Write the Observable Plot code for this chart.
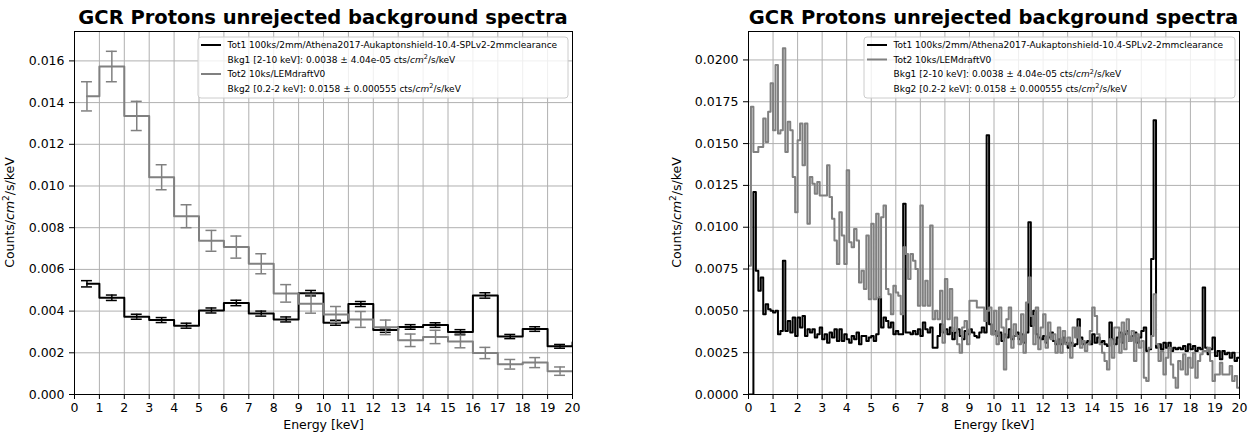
<!DOCTYPE html>
<html><head><meta charset="utf-8">
<script src="https://cdn.jsdelivr.net/npm/d3@7"></script>
<script src="https://cdn.jsdelivr.net/npm/@observablehq/plot@0.6"></script>
<style>
body{margin:0;background:#fff;}
#wrap{position:relative;width:1250px;height:439px;overflow:hidden;background:#fff;font-family:"DejaVu Sans",sans-serif;}
#wrap svg{position:absolute;top:0;}
</style></head><body><div id="wrap"></div>
<script>
// ---------- text ----------
const titleText = "GCR Protons unrejected background spectra";
const xLabel = "Energy [keV]";
const yLabelParts = ["Counts/", "cm", "2", "/s/keV"];
const seriesNames = ["Tot1 100ks/2mm/Athena2017-Aukaptonshield-10.4-SPLv2-2mmclearance", "Tot2 10ks/LEMdraftV0"];
const bkgPrefixes = ["Bkg1 [2-10 keV]: 0.0038 ± 4.04e-05 cts/", "Bkg2 [0.2-2 keV]: 0.0158 ± 0.000555 cts/"];
const bkgSuffix = "/s/keV";
const xTicks = d3.range(0, 21);

// ---------- left panel: 1 keV bins (centres 0.5 ... 20.5) ----------
const coarseCenters = d3.range(0, 21).map(i => i + 0.5);
const coarseTot1 = [0.00531, 0.00464, 0.00373, 0.00357, 0.00330, 0.00403, 0.00439, 0.00388, 0.00360, 0.00486,
                    0.00344, 0.00434, 0.00309, 0.00324, 0.00333, 0.00300, 0.00475, 0.00278, 0.00314, 0.00231, 0.00250];
const coarseTot1Err = [0.00015, 0.00013, 0.00012, 0.00012, 0.00012, 0.00012, 0.00013, 0.00012, 0.00012, 0.00013,
                       0.00012, 0.00012, 0.00011, 0.00011, 0.00011, 0.00011, 0.00013, 0.00010, 0.00011, 0.00009];
const coarseTot2 = [0.01430, 0.01573, 0.01336, 0.01042, 0.00855, 0.00737, 0.00707, 0.00627, 0.00485, 0.00435,
                    0.00384, 0.00360, 0.00322, 0.00260, 0.00276, 0.00254, 0.00199, 0.00145, 0.00153, 0.00112, 0.00110];
const coarseTot2Err = [0.00070, 0.00073, 0.00070, 0.00060, 0.00055, 0.00050, 0.00053, 0.00048, 0.00042, 0.00045,
                       0.00038, 0.00038, 0.00035, 0.00030, 0.00032, 0.00030, 0.00027, 0.00023, 0.00024, 0.00020];

// ---------- right panel: 0.1 keV bins (left edges 0.0 ... 19.9) ----------
const fineTot1 = [
 0, 0, 0.0121, 0.0074, 0.0062, 0.0070, 0.0048, 0.0054, 0.0051, 0.0050,
 0.0049, 0.0050, 0.0036, 0.0038, 0.0080, 0.0038, 0.0044, 0.0037, 0.0046, 0.0035,
 0.0046, 0.0040, 0.0047, 0.0035, 0.0039, 0.0037, 0.0039, 0.0034, 0.0036, 0.0040,
 0.0033, 0.0036, 0.0031, 0.0037, 0.0034, 0.0039, 0.0032, 0.0039, 0.0032, 0.0036,
 0.0033, 0.0031, 0.0035, 0.0033, 0.0037, 0.0030, 0.0035, 0.0035, 0.0032, 0.0034,
 0.0035, 0.0032, 0.0036, 0.0058, 0.0040, 0.0046, 0.0044, 0.0040, 0.0043, 0.0036,
 0.0038, 0.0036, 0.0036, 0.0114, 0.0037, 0.0037, 0.0036, 0.0038, 0.0036, 0.0039,
 0.0035, 0.0043, 0.0039, 0.0037, 0.0040, 0.0028, 0.0028, 0.0035, 0.0042, 0.0037,
 0.0039, 0.0036, 0.0040, 0.0033, 0.0037, 0.0039, 0.0035, 0.0033, 0.0038, 0.0036,
 0.0039, 0.0037, 0.0035, 0.0034, 0.0037, 0.0040, 0.0037, 0.0155, 0.0042, 0.0036,
 0.0038, 0.0035, 0.0037, 0.0032, 0.0036, 0.0034, 0.0039, 0.0033, 0.0035, 0.0037,
 0.0033, 0.0036, 0.0031, 0.0037, 0.0103, 0.0041, 0.0050, 0.0036, 0.0034, 0.0033,
 0.0035, 0.0031, 0.0034, 0.0037, 0.0032, 0.0030, 0.0033, 0.0030, 0.0034, 0.0031,
 0.0028, 0.0031, 0.0029, 0.0030, 0.0045, 0.0034, 0.0030, 0.0031, 0.0032, 0.0030,
 0.0036, 0.0031, 0.0034, 0.0031, 0.0032, 0.0030, 0.0029, 0.0043, 0.0033, 0.0030,
 0.0034, 0.0037, 0.0031, 0.0036, 0.0038, 0.0032, 0.0035, 0.0037, 0.0031, 0.0034,
 0.0038, 0.0040, 0.0026, 0.0027, 0.0081, 0.0164, 0.0028, 0.0030, 0.0027, 0.0031,
 0.0028, 0.0031, 0.0026, 0.0028, 0.0027, 0.0028, 0.0027, 0.0029, 0.0026, 0.0030,
 0.0027, 0.0029, 0.0026, 0.0028, 0.0027, 0.0064, 0.0028, 0.0024, 0.0027, 0.0034,
 0.0023, 0.0026, 0.0021, 0.0026, 0.0024, 0.0025, 0.0022, 0.0025, 0.0020, 0.0022
];
const fineTot2 = [
 0.0077, 0.0172, 0.0145, 0.0145, 0.0148, 0.0148, 0.0165, 0.0151, 0.0169, 0.0186,
 0.0158, 0.0197, 0.0156, 0.0158, 0.0207, 0.0145, 0.0163, 0.0158, 0.0130, 0.0109,
 0.0152, 0.0162, 0.0137, 0.0162, 0.0102, 0.0130, 0.0126, 0.0120, 0.0127, 0.0119,
 0.0119, 0.0119, 0.0137, 0.0118, 0.0105, 0.0092, 0.0078, 0.0109, 0.0095, 0.0078,
 0.0134, 0.0091, 0.0088, 0.0099, 0.0092, 0.0067, 0.0074, 0.0063, 0.0095, 0.0057,
 0.0102, 0.0057, 0.0108, 0.0058, 0.0106, 0.0113, 0.0063, 0.0060, 0.0048, 0.0065,
 0.0061, 0.0059, 0.0048, 0.0088, 0.0084, 0.0069, 0.0084, 0.0080, 0.0075, 0.0053,
 0.0113, 0.0053, 0.0068, 0.0053, 0.0101, 0.0045, 0.0050, 0.0045, 0.0062, 0.0031,
 0.0069, 0.0045, 0.0063, 0.0038, 0.0046, 0.0030, 0.0025, 0.0040, 0.0044, 0.0030,
 0.0056, 0.0056, 0.0056, 0.0052, 0.0052, 0.0052, 0.0044, 0.0050, 0.0052, 0.0036,
 0.0050, 0.0030, 0.0052, 0.0040, 0.0015, 0.0045, 0.0052, 0.0028, 0.0042, 0.0035,
 0.0030, 0.0048, 0.0025, 0.0055, 0.0070, 0.0047, 0.0030, 0.0052, 0.0027, 0.0040,
 0.0048, 0.0028, 0.0043, 0.0033, 0.0036, 0.0025, 0.0040, 0.0025, 0.0038, 0.0030,
 0.0034, 0.0022, 0.0040, 0.0034, 0.0040, 0.0028, 0.0032, 0.0026, 0.0030, 0.0038,
 0.0052, 0.0047, 0.0036, 0.0030, 0.0025, 0.0020, 0.0015, 0.0033, 0.0022, 0.0040,
 0.0040, 0.0025, 0.0043, 0.0027, 0.0045, 0.0032, 0.0038, 0.0020, 0.0036, 0.0028,
 0.0032, 0.0010, 0.0008, 0.0028, 0.0035, 0.0060, 0.0030, 0.0020, 0.0026, 0.0012,
 0.0022, 0.0028, 0.0018, 0.0010, 0.0004, 0.0020, 0.0015, 0.0024, 0.0012, 0.0022,
 0.0016, 0.0025, 0.0010, 0.0020, 0.0024, 0.0026, 0.0026, 0.0028, 0.0020, 0.0008,
 0.0012, 0.0012, 0.0019, 0.0012, 0.0012, 0.0012, 0.0017, 0.0008, 0.0011, 0.0004
];
const fineEdges = d3.range(0, 200).map(i => i / 10);

// ---------- tables built from the arrays ----------
const coarseRows = coarseCenters.map((x, i) => ({x, tot1: coarseTot1[i], tot2: coarseTot2[i]}));
const err1Rows = coarseTot1Err.map((e, i) => ({x: coarseCenters[i], lo: coarseTot1[i] - e, hi: coarseTot1[i] + e}));
const err2Rows = coarseTot2Err.map((e, i) => ({x: coarseCenters[i], lo: coarseTot2[i] - e, hi: coarseTot2[i] + e}));
const fineRows = fineEdges.map((x, i) => ({x, tot1: fineTot1[i], tot2: fineTot2[i]}));
fineRows.push({x: 20, tot1: fineTot1[199], tot2: fineTot2[199]});

const BLACK = "#000000", GREY = "#808080", GRID = "#b0b0b0";
const W = 625, H = 439, MT = 31, MB = 45;
const CAP = 0.22;

function errorMarks(rows, color) {
  return [
    Plot.ruleX(rows, {x: "x", y1: "lo", y2: "hi", stroke: color, strokeWidth: 1.5}),
    Plot.ruleY(rows, {y: "hi", x1: d => d.x - CAP, x2: d => d.x + CAP, stroke: color, strokeWidth: 1.5}),
    Plot.ruleY(rows, {y: "lo", x1: d => d.x - CAP, x2: d => d.x + CAP, stroke: color, strokeWidth: 1.5})
  ];
}

function makePanel(opt) {
  const svg = Plot.plot({
    width: W, height: H,
    marginLeft: opt.ml, marginRight: opt.mr, marginTop: MT, marginBottom: MB,
    style: {fontFamily: "DejaVu Sans", fontSize: "12.5px", color: "black", background: "transparent", overflow: "visible"},
    x: {domain: [0, 20]},
    y: {domain: [0, opt.yMax]},
    marks: [
      Plot.gridX(xTicks, {stroke: GRID, strokeOpacity: 1, strokeWidth: 1}),
      Plot.gridY(opt.yTicks, {stroke: GRID, strokeOpacity: 1, strokeWidth: 1}),
      ...opt.dataMarks,
      Plot.frame({stroke: BLACK, strokeWidth: 1}),
      Plot.axisX({ticks: xTicks, tickSize: 5, tickPadding: 4, tickFormat: d => String(d), label: null}),
      Plot.axisY({ticks: opt.yTicks, tickSize: 5, tickPadding: 5, tickFormat: opt.yFormat, label: null}),
      Plot.text([xLabel], {frameAnchor: "bottom", dy: 34, text: d => d, fontSize: 12.5})
    ]
  });
  svg.style.left = opt.left + "px";
  const s = d3.select(svg);
  const cx = (opt.ml + (W - opt.mr)) / 2;
  // title
  s.append("text").attr("x", cx).attr("y", 24).attr("text-anchor", "middle")
    .attr("font-family", "DejaVu Sans").attr("font-weight", "bold").attr("font-size", 19.5)
    .attr("fill", BLACK).text(titleText);
  // y label
  const yl = s.append("text").attr("transform", `translate(${opt.ylx},${(MT + H - MB) / 2}) rotate(-90)`)
    .attr("text-anchor", "middle").attr("font-family", "DejaVu Sans").attr("font-size", 12.5).attr("fill", BLACK);
  yl.append("tspan").text(yLabelParts[0]);
  yl.append("tspan").attr("font-style", "italic").text(yLabelParts[1]);
  yl.append("tspan").attr("font-size", 9).attr("dy", -5).text(yLabelParts[2]);
  yl.append("tspan").attr("dy", 5).text(yLabelParts[3]);
  // legend
  const g = s.append("g").attr("transform", `translate(${opt.lx},${opt.ly})`);
  g.append("rect").attr("x", 0).attr("y", 0).attr("width", opt.lw).attr("height", 61)
    .attr("rx", 3).attr("fill", "white").attr("fill-opacity", 0.8).attr("stroke", "#cccccc").attr("stroke-width", 1);
  opt.legendRows.forEach((row, i) => {
    const cy = 8 + i * 14.5;
    if (row.color) {
      g.append("line").attr("x1", 3).attr("x2", 23).attr("y1", cy).attr("y2", cy)
        .attr("stroke", row.color).attr("stroke-width", 2);
    }
    const t = g.append("text").attr("x", 29.5).attr("y", cy + 3.2).attr("text-anchor", "start")
      .attr("font-family", "DejaVu Sans").attr("font-size", 9).attr("fill", BLACK);
    if (row.bkg !== undefined) {
      t.append("tspan").text(bkgPrefixes[row.bkg]);
      t.append("tspan").attr("font-style", "italic").text("cm");
      t.append("tspan").attr("font-size", 6.5).attr("dy", -3.5).text("2");
      t.append("tspan").attr("dy", 3.5).text(bkgSuffix);
    } else {
      t.text(row.text);
    }
  });
  document.getElementById("wrap").appendChild(svg);
}

makePanel({
  left: 0, ml: 74, mr: 53, yMax: 0.01741,
  yTicks: d3.range(0, 9).map(i => i * 0.002), yFormat: d3.format(".3f"), ylx: 14,
  lx: 198, ly: 37, lw: 370,
  legendRows: [{color: BLACK, text: seriesNames[0]}, {bkg: 0}, {color: GREY, text: seriesNames[1]}, {bkg: 1}],
  dataMarks: [
    Plot.line(coarseRows, {x: "x", y: "tot1", curve: "step", stroke: BLACK, strokeWidth: 2, clip: true}),
    ...errorMarks(err1Rows, BLACK),
    Plot.line(coarseRows, {x: "x", y: "tot2", curve: "step", stroke: GREY, strokeWidth: 2, clip: true}),
    ...errorMarks(err2Rows, GREY)
  ]
});

makePanel({
  left: 625, ml: 123, mr: 11, yMax: 0.0217,
  yTicks: d3.range(0, 9).map(i => i * 0.0025), yFormat: d3.format(".4f"), ylx: 56,
  lx: 239, ly: 37, lw: 371,
  legendRows: [{color: BLACK, text: seriesNames[0]}, {color: GREY, text: seriesNames[1]}, {bkg: 0}, {bkg: 1}],
  dataMarks: [
    Plot.line(fineRows, {x: "x", y: "tot1", curve: "step-after", stroke: BLACK, strokeWidth: 2, clip: true}),
    Plot.line(fineRows, {x: "x", y: "tot2", curve: "step-after", stroke: GREY, strokeWidth: 2, clip: true})
  ]
});
</script>
</body></html>
